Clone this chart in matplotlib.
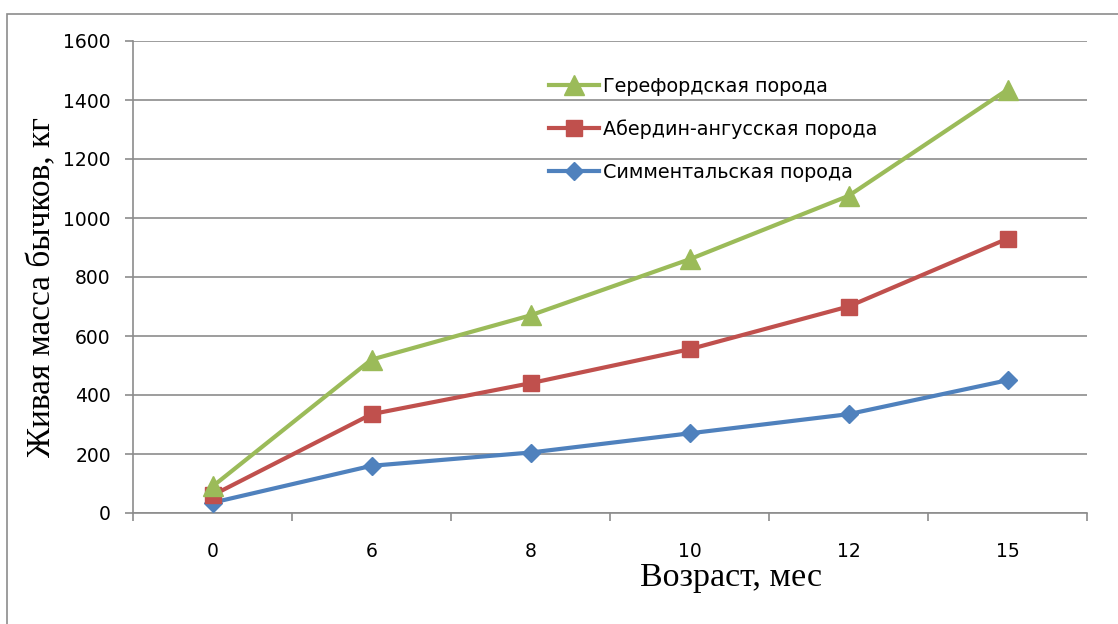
import numpy as np
import matplotlib.pyplot as plt
from matplotlib.patches import Rectangle

ages = ['0', '6', '8', '10', '12', '15']
hereford = [90, 520, 670, 860, 1075, 1435]
angus = [60, 335, 440, 555, 700, 930]
simmental = [35, 160, 205, 270, 335, 450]

fig = plt.figure(figsize=(11.18, 6.24), dpi=100)
fig.patches.append(Rectangle((7 / 1118, -0.1), 1.2, 1.1 - 14 / 624, transform=fig.transFigure,
                             fill=False, edgecolor='#8c8c8c', linewidth=1.2))

ax = fig.add_axes([133 / 1118, 111 / 624, 954 / 1118, 472 / 624])
x = np.arange(len(ages))

ax.plot(x, hereford, color='#9BBB59', lw=3, marker='^', ms=14, label='Герефордская порода', zorder=5)
ax.plot(x, angus, color='#C0504D', lw=3, marker='s', ms=12, label='Абердин-ангусская порода', zorder=4)
ax.plot(x, simmental, color='#4F81BD', lw=3, marker='D', ms=9, label='Симментальская порода', zorder=3)

ax.set_xlim(-0.5, len(ages) - 0.5)
ax.set_ylim(0, 1600)
ax.set_yticks(range(0, 1601, 200))
ax.set_xticks(x)
ax.set_xticklabels(ages)
ax.set_xticks(np.arange(-0.5, len(ages)), minor=True)

ax.grid(axis='y', color='#8c8c8c', lw=1.2)
ax.set_axisbelow(True)
for s in ['top', 'right']:
    ax.spines[s].set_visible(False)
for s in ['left', 'bottom']:
    ax.spines[s].set_color('#8c8c8c')
    ax.spines[s].set_linewidth(1.2)

ax.tick_params(axis='x', which='major', length=0, pad=21, labelsize=13.5)
ax.tick_params(axis='x', which='minor', length=6, color='#8c8c8c', width=1.2)
ax.tick_params(axis='y', length=6, color='#8c8c8c', width=1.2, pad=10, labelsize=13.5)

ax.legend(loc='upper left', bbox_to_anchor=(0.426, 0.945), frameon=False, fontsize=13.8,
          labelspacing=1.25, handlelength=2.6, handletextpad=0.2, borderpad=0)

fig.text(731 / 1118, 1 - 578 / 624, 'Возраст, мес', family='Liberation Serif', fontsize=24.5,
         ha='center', va='center')
fig.text(42 / 1118, 1 - 287 / 624, 'Живая масса бычков, кг', family='Liberation Serif', fontsize=24,
         ha='center', va='center', rotation=90)

fig.savefig('out.png', dpi=100)
